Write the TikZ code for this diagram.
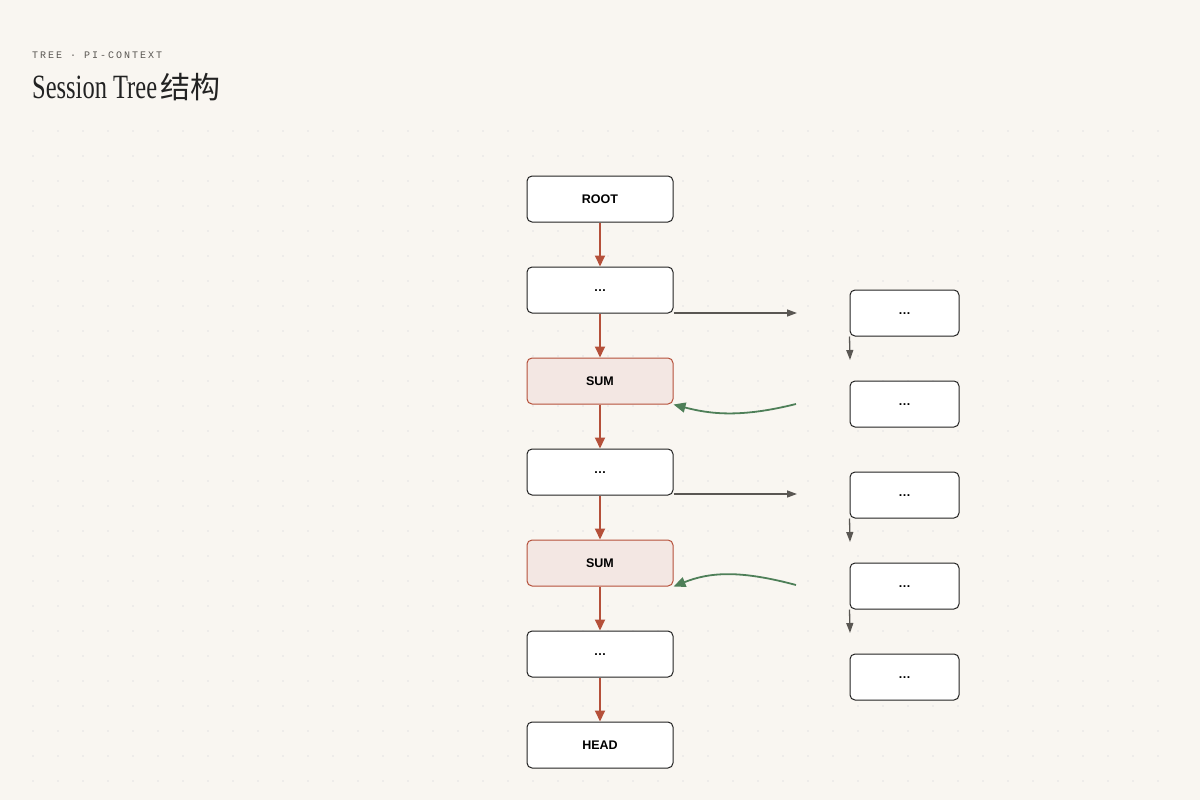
\documentclass[tikz,border=0pt]{standalone}
\usepackage{fontspec}
\setmainfont{Liberation Serif}
\setsansfont{Liberation Sans}
\newfontfamily\monofont[LetterSpace=20]{Liberation Mono}
\newfontfamily\cjk{Noto Sans CJK SC}
\usetikzlibrary{positioning, arrows.meta}

\definecolor{paper}{HTML}{F9F6F1}
\definecolor{ink}{HTML}{222222}
\definecolor{rust}{HTML}{B5503A}
\definecolor{sumfill}{HTML}{F3E7E3}
\definecolor{moss}{HTML}{4E7F58}
\definecolor{slate}{HTML}{5A5753}

\tikzset{
  box/.style={draw=ink, fill=white, rounded corners=5pt, line width=1pt,
    minimum width=146pt, minimum height=46pt, font=\sffamily\bfseries\fontsize{12.5}{15}\selectfont},
  sidebox/.style={box, minimum width=109pt},
  sumbox/.style={box, draw=rust, fill=sumfill},
  chain/.style={draw=rust, line width=1.8pt, -{Triangle[length=11pt,width=10pt]}},
  branch/.style={draw=slate, line width=1.3pt, -{Triangle[length=10pt,width=7pt]}},
  merge/.style={draw=moss, line width=1.8pt, -{Triangle[length=12pt,width=10pt]}}
}

\begin{document}
\begin{tikzpicture}[x=1pt, y=-1pt]

  % Background
  \fill[paper] (0,0) rectangle (1200,800);
  \useasboundingbox (0,0) rectangle (1200,800);

  % Dot grid
  \foreach \gy in {131,156,...,790}
    \foreach \gx in {33,58,...,1180}
      \fill[black!11] (\gx,\gy) circle (0.8pt);

  % Heading
  \node[anchor=base west, inner sep=0pt, text=slate] (kicker) at (32,59)
    {\monofont\fontsize{10}{12}\selectfont TREE · PI-CONTEXT};
  \node[anchor=base west, inner sep=0pt, text=ink] (title) at (32,99)
    {\fontsize{34}{38}\selectfont\addfontfeature{FakeStretch=0.72}Session Tree\hspace{3pt}{\cjk\fontsize{30}{34}\selectfont 结构}};

  % Main chain
  \node[box] (root) at (600,199) {ROOT};
  \node[box] (m1) at (600,290) {\raisebox{-3pt}{…}};
  \node[sumbox] (s1) at (600,381) {SUM};
  \node[box] (m2) at (600,472) {\raisebox{-3pt}{…}};
  \node[sumbox] (s2) at (600,563) {SUM};
  \node[box] (m3) at (600,654) {\raisebox{-3pt}{…}};
  \node[box] (head) at (600,745) {HEAD};

  \foreach \a/\b in {root/m1, m1/s1, s1/m2, m2/s2, s2/m3, m3/head}
    \draw[chain] (\a) -- (\b);

  % Side branches
  \node[sidebox] (b1) at (904.5,313) {\raisebox{-3pt}{…}};
  \node[sidebox] (b2) at (904.5,404) {\raisebox{-3pt}{…}};
  \node[sidebox] (b3) at (904.5,495) {\raisebox{-3pt}{…}};
  \node[sidebox] (b4) at (904.5,586) {\raisebox{-3pt}{…}};
  \node[sidebox] (b5) at (904.5,677) {\raisebox{-3pt}{…}};

  \coordinate (f1) at (797,313);
  \coordinate (f2) at (797,494);
  \coordinate (d1) at (850,360);
  \coordinate (d2) at (850,542);
  \coordinate (d3) at (850,633);
  \coordinate (g1) at (796,404);
  \coordinate (g2) at (796,585);

  \draw[branch] (m1.east |- f1) -- (f1);
  \draw[branch] (m2.east |- f2) -- (f2);
  \draw[branch] (b1.south west) -- (d1);
  \draw[branch] (b3.south west) -- (d2);
  \draw[branch] (b4.south west) -- (d3);

  % Summary merges
  \draw[merge] (g1) .. controls (740,418) and (710,414) .. (s1.south east);
  \draw[merge] (g2) .. controls (740,570) and (710,572) .. (s2.south east);

\end{tikzpicture}
\end{document}
